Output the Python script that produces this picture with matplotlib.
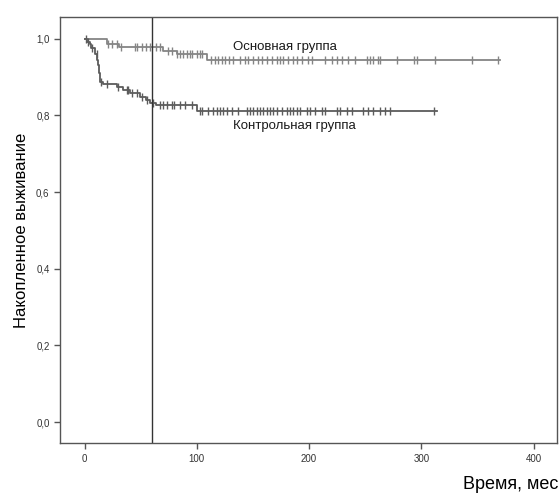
import numpy as np
import matplotlib
matplotlib.use("Agg")
import matplotlib.pyplot as plt

plt.rcParams['font.family'] = ['Liberation Sans', 'DejaVu Sans']

# Kaplan-Meier step points (time in months, cumulative survival)
main_t = [0, 20, 31, 70, 82, 109]
main_s = [1.0, 0.985, 0.978, 0.967, 0.960, 0.945]
main_end = 370
main_cens = [20.5, 24, 28.6, 32, 44.6, 47, 51, 54.5, 58, 64, 67, 74, 78, 82, 85,
             87.5, 91, 94, 96, 100, 103, 105, 113, 116, 119, 122, 125, 129, 132,
             138, 143, 145.5, 150, 154.5, 158, 162.5, 167, 171, 174, 177, 181, 186,
             189, 194, 199, 203, 214, 220.5, 225, 229.5, 235, 241, 252, 254.5, 257,
             261, 263, 278.5, 293, 296, 312.5, 345.5, 368]

ctrl_t = [0, 2, 4.5, 6, 9, 11, 12, 12.5, 13.5, 16, 28.5, 34, 40, 49, 55, 58, 64, 100]
ctrl_s = [1.0, 0.99, 0.985, 0.975, 0.96, 0.945, 0.93, 0.91, 0.888, 0.883, 0.875,
          0.865, 0.857, 0.847, 0.839, 0.831, 0.827, 0.812]
ctrl_end = 314
ctrl_cens = [1, 3, 7, 10.7, 15, 19.6, 29.5, 37.5, 38.4, 42, 47, 51, 56, 61, 67, 70,
             73, 78, 80, 85, 89, 95.5, 102.7, 105, 110, 114, 118, 120.5, 123, 127,
             131, 136.6, 144.6, 147, 150, 153.6, 156, 159, 162.5, 165, 168, 171, 176,
             180, 183, 186, 189, 192, 198, 201, 205, 211.6, 214, 225, 227.7, 234, 238,
             248, 252.7, 257, 263, 268, 272, 311]

ref_line = 60
x_ticks = [0, 100, 200, 300, 400]
y_ticks = [0.0, 0.2, 0.4, 0.6, 0.8, 1.0]


def surv_at(times, surv, x):
    idx = np.searchsorted(times, x, side='right') - 1
    return np.asarray(surv)[idx]


fig = plt.figure(figsize=(5.6, 4.94), dpi=100)
ax = fig.add_axes([0.107, 0.103, 0.888, 0.863])

for t, s, end, cens, col in [(main_t, main_s, main_end, main_cens, '#858585'),
                             (ctrl_t, ctrl_s, ctrl_end, ctrl_cens, '#5c5c5c')]:
    tt = list(t) + [end]
    ss = list(s) + [s[-1]]
    ax.step(tt, ss, where='post', color=col, lw=1.3)
    ax.plot(cens, surv_at(t, s, cens), ls='none', marker='|', ms=6, mew=1.0, color=col)

ax.axvline(ref_line, color='#333333', lw=1.0)

ax.text(132, 0.977, 'Основная группа', fontsize=9.5, va='center', ha='left', color='#1a1a1a')
ax.text(132, 0.773, 'Контрольная группа', fontsize=9.5, va='center', ha='left', color='#1a1a1a')

ax.set_xlim(-22, 421)
ax.set_ylim(-0.055, 1.057)
ax.set_xticks(x_ticks)
ax.set_xticklabels([str(v) for v in x_ticks])
ax.set_yticks(y_ticks)
ax.set_yticklabels([f'{v:.1f}'.replace('.', ',') for v in y_ticks])
ax.tick_params(labelsize=7, length=4, width=1, color='#555555', labelcolor='#333333')
for sp in ax.spines.values():
    sp.set_color('#555555')
    sp.set_linewidth(1.0)

ax.set_ylabel('Накопленное выживание', fontsize=12, labelpad=5)
fig.text(0.997, 0.02, 'Время, мес', fontsize=13, ha='right', va='center')

fig.savefig('out.png', dpi=100)
